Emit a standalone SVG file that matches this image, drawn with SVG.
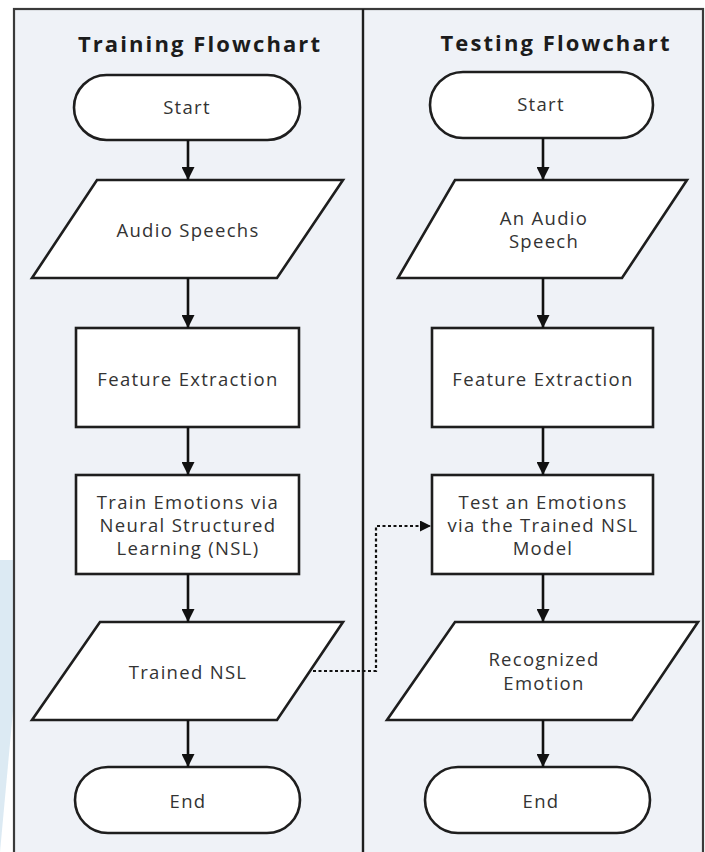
<svg xmlns="http://www.w3.org/2000/svg" width="705" height="852" viewBox="0 0 705 852">
  <defs>
    <marker id="arr" viewBox="0 0 10 10" refX="10" refY="5" markerWidth="5" markerHeight="5" orient="auto" markerUnits="strokeWidth">
      <path d="M0,0 L10,5 L0,10 z" fill="#111"/>
    </marker>
    <style>
      .shape { fill: #ffffff; stroke: #1e1e1e; stroke-width: 2.6; }
      .lbl { font-family: "Open Sans", "Noto Sans", "Liberation Sans", sans-serif; font-size: 18.5px; fill: #333; text-anchor: middle; letter-spacing: 1.3px; }
      .title { font-family: "Open Sans", "Noto Sans", "Liberation Sans", sans-serif; font-size: 22px; font-weight: bold; fill: #1c1c1c; text-anchor: middle; letter-spacing: 2.1px; }
      .flow { stroke: #111; stroke-width: 2.6; fill: none; marker-end: url(#arr); }
      .dot { stroke: #111; stroke-width: 2.2; fill: none; stroke-dasharray: 3 2.5; marker-end: url(#arr); }
    </style>
  </defs>
  <rect x="0" y="0" width="705" height="852" fill="#ffffff"/>
  <polygon points="0,560 40,560 14,700 0,852" fill="#d3e5f0" opacity="0.8"/>
  <g id="frame">
    <rect x="14" y="9" width="689" height="850" fill="#eff2f7" stroke="#3a3a3a" stroke-width="2.2"/>
    <line x1="363" y1="9" x2="363" y2="852" stroke="#1e1e1e" stroke-width="2.4"/>
  </g>
  <g id="title-training"><text class="title" x="200" y="52">Training Flowchart</text></g>
  <g id="title-testing"><text class="title" x="556" y="51">Testing Flowchart</text></g>

  <g id="t-start">
    <rect class="shape" x="74" y="75" width="226" height="65" rx="32.5"/>
    <text class="lbl" x="187" y="114">Start</text>
  </g>
  <g id="t-audio">
    <polygon class="shape" points="97,180 343,180 277,278 32,278"/>
    <text class="lbl" x="188" y="237">Audio Speechs</text>
  </g>
  <g id="t-feature">
    <rect class="shape" x="76" y="328" width="223" height="99"/>
    <text class="lbl" x="188" y="386">Feature Extraction</text>
  </g>
  <g id="t-train">
    <rect class="shape" x="76" y="475" width="223" height="99"/>
    <text class="lbl" x="188" y="509">Train Emotions via</text>
    <text class="lbl" x="188" y="532">Neural Structured</text>
    <text class="lbl" x="188" y="555">Learning (NSL)</text>
  </g>
  <g id="t-trained">
    <polygon class="shape" points="100,622 343,622 277,720 32,720"/>
    <text class="lbl" x="188" y="679">Trained NSL</text>
  </g>
  <g id="t-end">
    <rect class="shape" x="75" y="767" width="225" height="66" rx="33"/>
    <text class="lbl" x="188" y="808">End</text>
  </g>

  <g id="s-start">
    <rect class="shape" x="430" y="72" width="223" height="66" rx="33"/>
    <text class="lbl" x="541" y="111">Start</text>
  </g>
  <g id="s-audio">
    <polygon class="shape" points="455,180 687,180 622,278 398,278"/>
    <text class="lbl" x="544" y="225">An Audio</text>
    <text class="lbl" x="544" y="248">Speech</text>
  </g>
  <g id="s-feature">
    <rect class="shape" x="432" y="328" width="221" height="99"/>
    <text class="lbl" x="543" y="386">Feature Extraction</text>
  </g>
  <g id="s-test">
    <rect class="shape" x="432" y="475" width="221" height="99"/>
    <text class="lbl" x="543" y="509">Test an Emotions</text>
    <text class="lbl" x="543" y="532">via the Trained NSL</text>
    <text class="lbl" x="543" y="555">Model</text>
  </g>
  <g id="s-recog">
    <polygon class="shape" points="455,622 698,622 632,720 387,720"/>
    <text class="lbl" x="544" y="666">Recognized</text>
    <text class="lbl" x="544" y="690">Emotion</text>
  </g>
  <g id="s-end">
    <rect class="shape" x="425" y="767" width="225" height="66" rx="33"/>
    <text class="lbl" x="541" y="808">End</text>
  </g>

  <g id="connectors">
    <line class="flow" x1="188" y1="140" x2="188" y2="180"/>
    <line class="flow" x1="188" y1="278" x2="188" y2="328"/>
    <line class="flow" x1="188" y1="427" x2="188" y2="475"/>
    <line class="flow" x1="188" y1="574" x2="188" y2="622"/>
    <line class="flow" x1="188" y1="720" x2="188" y2="767"/>
    <line class="flow" x1="543" y1="138" x2="543" y2="180"/>
    <line class="flow" x1="543" y1="278" x2="543" y2="328"/>
    <line class="flow" x1="543" y1="427" x2="543" y2="475"/>
    <line class="flow" x1="543" y1="574" x2="543" y2="622"/>
    <line class="flow" x1="543" y1="720" x2="543" y2="767"/>
    <polyline class="dot" points="313,671 376,671 376,526 431,526"/>
  </g>
</svg>
